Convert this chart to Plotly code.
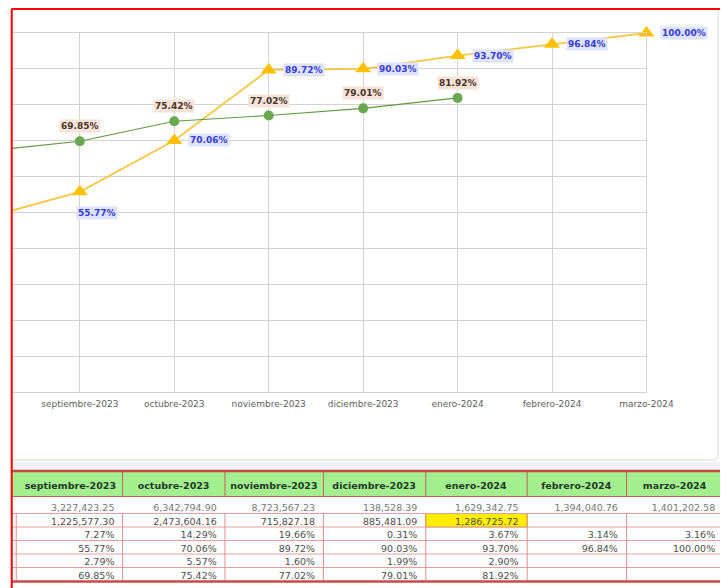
import plotly.graph_objects as go

# The photographed page is squeezed horizontally (752 css px -> 728 px) and
# has an 8px body margin; helpers below map picture pixels to paper fractions.
S = 728 / 752
W, H = 744, 580
OFF = 8

# ---------------- data ----------------
months = ["agosto-2023", "septiembre-2023", "octubre-2023", "noviembre-2023",
          "diciembre-2023", "enero-2024", "febrero-2024", "marzo-2024"]
programado_acum = [48.50, 55.77, 70.06, 89.72, 90.03, 93.70, 96.84, 100.00]
ejecutado_acum = [67.06, 69.85, 75.42, 77.02, 79.01, 81.92]

table_months = months[1:]
row_monto_prog = ["3,227,423.25", "6,342,794.90", "8,723,567.23", "138,528.39",
                  "1,629,342.75", "1,394,040.76", "1,401,202.58"]
row_monto_ejec = ["1,225,577.30", "2,473,604.16", "715,827.18", "885,481.09",
                  "1,286,725.72", "", ""]
row_pct_prog = ["7.27%", "14.29%", "19.66%", "0.31%", "3.67%", "3.14%", "3.16%"]
row_acum_prog = ["55.77%", "70.06%", "89.72%", "90.03%", "93.70%", "96.84%", "100.00%"]
row_pct_ejec = ["2.79%", "5.57%", "1.60%", "1.99%", "2.90%", "", ""]
row_acum_ejec = ["69.85%", "75.42%", "77.02%", "79.01%", "81.92%", "", ""]
highlight = (1, 4)  # (row, column) of the highlighted cell

# ---------------- helpers ----------------
def fx(x):
    return (x / S - OFF) / W

def fy(y):
    return 1 - (y - OFF) / H

FONT = "DejaVu Sans"
GRID = "#d3d3d3"

fig = go.Figure()

fig.add_trace(go.Scatter(
    x=months, y=programado_acum, mode="lines+markers",
    line=dict(color="#f6c744", width=1.8),
    marker=dict(symbol="triangle-up", size=14, color="#ffc000"),
    cliponaxis=False, showlegend=False, hoverinfo="skip"))

fig.add_trace(go.Scatter(
    x=months[:len(ejecutado_acum)], y=ejecutado_acum, mode="lines+markers",
    line=dict(color="#5f9a3e", width=1.2),
    marker=dict(symbol="circle", size=10, color="#6aa84f"),
    cliponaxis=False, showlegend=False, hoverinfo="skip"))

annotations = []
for i, (m, v) in enumerate(zip(months, programado_acum)):
    below = i < 2
    annotations.append(dict(
        x=m, y=v, xref="x", yref="y", text=f"<b>{v:.2f}%</b>", showarrow=False,
        font=dict(family=FONT, size=9, color="#3a3ad6"), bgcolor="#dde3fa",
        xanchor="left", yanchor="middle",
        xshift=-4 if below else 14, yshift=-21 if below else 0, borderpad=1))
for m, v in zip(months, ejecutado_acum):
    annotations.append(dict(
        x=m, y=v, xref="x", yref="y", text=f"<b>{v:.2f}%</b>", showarrow=False,
        font=dict(family=FONT, size=9, color="#4a3326"), bgcolor="#f6e3da",
        xanchor="center", yanchor="middle", yshift=15, borderpad=1))

# ---------------- table ----------------
GRID_X0 = 12          # left edge of the visible sheet
TBL_X0 = 18           # table trace starts a little right so text hugs cell borders
col_w = [105, 103, 99, 103, 102, 100, 98]       # picture pixels
HDR_TOP, HDR_H, ROW0, ROW_H = 474, 22, 496, 13.5
LINE_OFF = 4
HDR_LINE = "#c9605d"
CELL_LINE = "#e3a0a0"
HDR_FILL = "#a3ef8f"

rows = [row_monto_prog, row_monto_ejec, row_pct_prog, row_acum_prog, row_pct_ejec, row_acum_ejec]
cols = [[r[j] for r in rows] for j in range(len(table_months))]
fonts_col = [["#777777"] + ["#4d4d4d"] * 5 for _ in table_months]

fig.add_trace(go.Table(
    domain=dict(x=[fx(TBL_X0), 1], y=[0, fy(HDR_TOP)]),
    columnwidth=col_w,
    header=dict(values=table_months,
                fill_color=HDR_FILL, line=dict(color="rgba(0,0,0,0)", width=1),
                align="center", height=HDR_H,
                font=dict(family=FONT, size=9.5, color="#1f3a1f", weight="bold")),
    cells=dict(values=cols, fill_color="rgba(0,0,0,0)",
               line=dict(color="rgba(0,0,0,0)", width=1),
               align="right", height=ROW_H,
               font=dict(family=FONT, size=9.5, color=fonts_col)),
))

bounds = [TBL_X0]
for w in col_w:
    bounds.append(bounds[-1] + w)

shapes = []
# light spreadsheet band under chart object
shapes.append(dict(type="rect", xref="paper", yref="paper", x0=fx(GRID_X0), x1=1,
                   y0=fy(470), y1=fy(462), fillcolor="#eef1f6", line=dict(width=0), layer="below"))
# chart object border (right + bottom, rounded corner)
shapes.append(dict(type="path", xref="paper", yref="paper",
                   path=f"M {fx(12)},{fy(460)} L {fx(716)},{fy(460)} Q {fx(722)},{fy(460)} {fx(722)},{fy(454)} L {fx(722)},{fy(10)}",
                   line=dict(color="#d6d6d6", width=1)))
# header background across the whole sheet width
shapes.append(dict(type="rect", xref="paper", yref="paper", x0=fx(GRID_X0), x1=1,
                   y0=fy(ROW0), y1=fy(471), fillcolor=HDR_FILL, line=dict(width=0), layer="below"))
# highlighted cell (between drawn row lines)
hr, hc = highlight
shapes.append(dict(type="rect", xref="paper", yref="paper",
                   x0=fx(bounds[hc]), x1=fx(bounds[hc + 1]),
                   y0=fy(ROW0 + ROW_H * (hr + 1) + LINE_OFF), y1=fy(ROW0 + ROW_H * hr + LINE_OFF),
                   fillcolor="#ffee00", line=dict(color="#d6b800", width=1), layer="below"))
# header separators and bottom border
for xb in bounds[1:-1]:
    shapes.append(dict(type="line", xref="paper", yref="paper", x0=fx(xb), x1=fx(xb),
                       y0=fy(ROW0), y1=fy(472), line=dict(color=HDR_LINE, width=1)))
shapes.append(dict(type="line", xref="paper", yref="paper", x0=fx(GRID_X0), x1=1,
                   y0=fy(ROW0 + 0.5), y1=fy(ROW0 + 0.5), line=dict(color=HDR_LINE, width=1)))
# row lines
n_rows = len(rows)
for k in range(1, n_rows):
    yk = ROW0 + ROW_H * k + LINE_OFF
    shapes.append(dict(type="line", xref="paper", yref="paper", x0=fx(GRID_X0), x1=1,
                       y0=fy(yk), y1=fy(yk), line=dict(color=CELL_LINE, width=1)))
# column lines for the bordered rows
y_top = ROW0 + ROW_H + LINE_OFF
y_bot = ROW0 + ROW_H * n_rows + LINE_OFF
for xb in [16] + bounds[1:-1]:
    shapes.append(dict(type="line", xref="paper", yref="paper", x0=fx(xb), x1=fx(xb),
                       y0=fy(y_top), y1=fy(y_bot), line=dict(color="#dd9090", width=1)))
# table double red lines
shapes.append(dict(type="line", xref="paper", yref="paper", x0=fx(GRID_X0), x1=1,
                   y0=fy(471), y1=fy(471), line=dict(color="#c84a48", width=2.5)))
shapes.append(dict(type="line", xref="paper", yref="paper", x0=fx(GRID_X0), x1=1,
                   y0=fy(y_bot + 0.5), y1=fy(y_bot + 0.5), line=dict(color="#c84a48", width=2.5)))
# red screenshot frame
shapes.append(dict(type="line", xref="paper", yref="paper", x0=fx(11.5), x1=fx(11.5),
                   y0=fy(9), y1=0, line=dict(color="#ff0000", width=2)))
shapes.append(dict(type="line", xref="paper", yref="paper", x0=fx(11), x1=1,
                   y0=fy(9), y1=fy(9), line=dict(color="#ff0000", width=2)))

fig.update_layout(
    width=W, height=H, margin=dict(l=0, r=0, t=0, b=0), autosize=False,
    paper_bgcolor="white", plot_bgcolor="white",
    showlegend=False, annotations=annotations, shapes=shapes,
    xaxis=dict(type="category", categoryorder="array", categoryarray=months,
               range=[27 / 95, 7], domain=[fx(12), fx(650)], anchor="y",
               showgrid=True, gridcolor=GRID, gridwidth=1, ticks="",
               showline=True, mirror=True, linecolor=GRID, linewidth=1, zeroline=False,
               ticklabelstandoff=3,
               tickfont=dict(family=FONT, size=9, color="#5e5e5e")),
    yaxis=dict(range=[0, 100], dtick=10, domain=[fy(392), fy(33)], anchor="x",
               showgrid=True, gridcolor=GRID, gridwidth=1, showticklabels=False,
               zeroline=False, showline=True, mirror=True, linecolor=GRID, linewidth=1,
               ticks=""),
)

fig.write_html("out.html")
